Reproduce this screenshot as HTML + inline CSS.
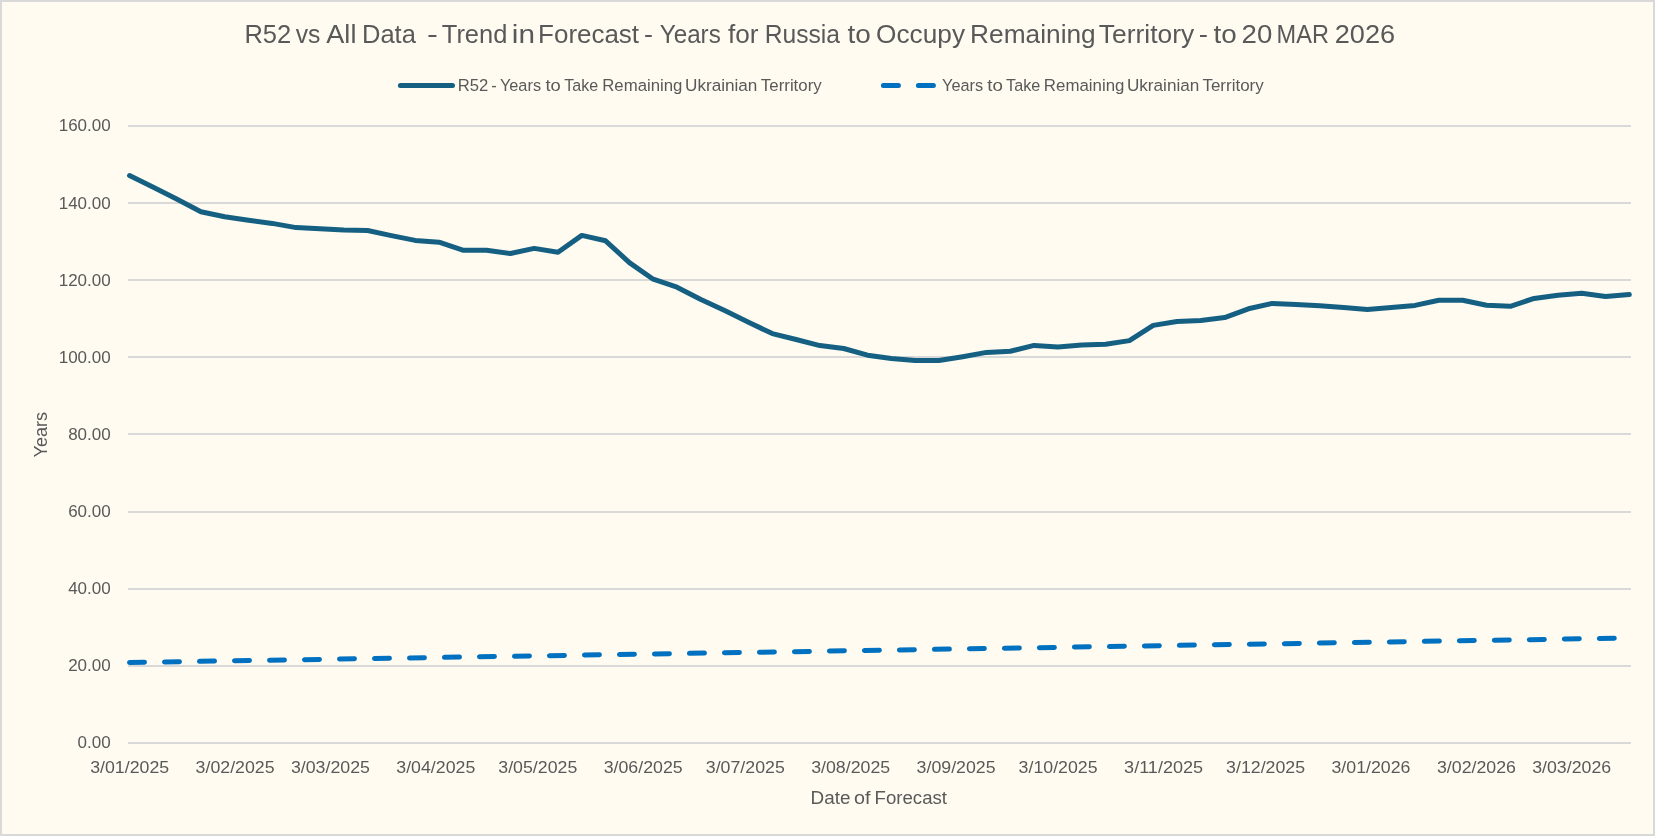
<!DOCTYPE html>
<html><head><meta charset="utf-8"><title>R52 vs All Data chart</title>
<style>
html,body{margin:0;padding:0;background:#d9d9d9;}
body{width:1655px;height:836px;overflow:hidden;position:relative;}
.frame{position:absolute;left:0;top:0;width:1651px;height:832px;border:2px solid #d9d9d9;background:#fffbf0;}
svg{position:absolute;left:0;top:0;will-change:transform;}
text{font-family:"Liberation Sans",Arial,sans-serif;fill:#595959;white-space:pre;}
</style></head>
<body>
<div class="frame"></div>
<svg width="1655" height="836" viewBox="0 0 1655 836">
<g stroke="#d9d9d9" stroke-width="2" shape-rendering="crispEdges">
<line x1="128" x2="1631" y1="126" y2="126"/>
<line x1="128" x2="1631" y1="203" y2="203"/>
<line x1="128" x2="1631" y1="280" y2="280"/>
<line x1="128" x2="1631" y1="357" y2="357"/>
<line x1="128" x2="1631" y1="434" y2="434"/>
<line x1="128" x2="1631" y1="512" y2="512"/>
<line x1="128" x2="1631" y1="589" y2="589"/>
<line x1="128" x2="1631" y1="666" y2="666"/>
<line x1="128" x2="1631" y1="743" y2="743"/>
</g>
<g>
<text x="244.46" y="42.9" font-size="26.5" textLength="46.80" lengthAdjust="spacingAndGlyphs">R52</text>
<text x="295.68" y="42.9" font-size="26.5" textLength="24.69" lengthAdjust="spacingAndGlyphs">vs</text>
<text x="326.30" y="42.9" font-size="26.5" textLength="30.10" lengthAdjust="spacingAndGlyphs">All</text>
<text x="361.96" y="42.9" font-size="26.5" textLength="53.90" lengthAdjust="spacingAndGlyphs">Data</text>
<text x="427.03" y="42.9" font-size="26.5" textLength="10.88" lengthAdjust="spacingAndGlyphs">-</text>
<text x="441.79" y="42.9" font-size="26.5" textLength="65.57" lengthAdjust="spacingAndGlyphs">Trend</text>
<text x="511.87" y="42.9" font-size="26.5" textLength="23.17" lengthAdjust="spacingAndGlyphs">in</text>
<text x="538.12" y="42.9" font-size="26.5" textLength="100.94" lengthAdjust="spacingAndGlyphs">Forecast</text>
<text x="644.09" y="42.9" font-size="26.5" textLength="8.97" lengthAdjust="spacingAndGlyphs">-</text>
<text x="659.80" y="42.9" font-size="26.5" textLength="60.97" lengthAdjust="spacingAndGlyphs">Years</text>
<text x="727.91" y="42.9" font-size="26.5" textLength="30.54" lengthAdjust="spacingAndGlyphs">for</text>
<text x="764.73" y="42.9" font-size="26.5" textLength="75.31" lengthAdjust="spacingAndGlyphs">Russia</text>
<text x="847.48" y="42.9" font-size="26.5" textLength="23.31" lengthAdjust="spacingAndGlyphs">to</text>
<text x="876.12" y="42.9" font-size="26.5" textLength="88.88" lengthAdjust="spacingAndGlyphs">Occupy</text>
<text x="970.10" y="42.9" font-size="26.5" textLength="125.62" lengthAdjust="spacingAndGlyphs">Remaining</text>
<text x="1098.87" y="42.9" font-size="26.5" textLength="95.27" lengthAdjust="spacingAndGlyphs">Territory</text>
<text x="1198.65" y="42.9" font-size="26.5" textLength="9.24" lengthAdjust="spacingAndGlyphs">-</text>
<text x="1213.58" y="42.9" font-size="26.5" textLength="23.20" lengthAdjust="spacingAndGlyphs">to</text>
<text x="1241.62" y="42.9" font-size="26.5" textLength="30.71" lengthAdjust="spacingAndGlyphs">20</text>
<text x="1276.62" y="42.9" font-size="26.5" textLength="52.29" lengthAdjust="spacingAndGlyphs">MAR</text>
<text x="1334.74" y="42.9" font-size="26.5" textLength="60.33" lengthAdjust="spacingAndGlyphs">2026</text>
</g>
<line x1="400.4" y1="85.5" x2="452.5" y2="85.5" stroke="#156082" stroke-width="5" stroke-linecap="round"/>
<line x1="883.4" y1="85.5" x2="933.5" y2="85.5" stroke="#0070c0" stroke-width="5" stroke-linecap="round" stroke-dasharray="15 20"/>
<g>
<text x="457.67" y="91.0" font-size="16.8" textLength="30.56" lengthAdjust="spacingAndGlyphs">R52</text>
<text x="491.27" y="91.0" font-size="16.8" textLength="5.44" lengthAdjust="spacingAndGlyphs">-</text>
<text x="499.89" y="91.0" font-size="16.8" textLength="41.19" lengthAdjust="spacingAndGlyphs">Years</text>
<text x="545.43" y="91.0" font-size="16.8" textLength="15.29" lengthAdjust="spacingAndGlyphs">to</text>
<text x="564.28" y="91.0" font-size="16.8" textLength="33.88" lengthAdjust="spacingAndGlyphs">Take</text>
<text x="602.26" y="91.0" font-size="16.8" textLength="80.14" lengthAdjust="spacingAndGlyphs">Remaining</text>
<text x="685.01" y="91.0" font-size="16.8" textLength="72.39" lengthAdjust="spacingAndGlyphs">Ukrainian</text>
<text x="760.86" y="91.0" font-size="16.8" textLength="60.86" lengthAdjust="spacingAndGlyphs">Territory</text>
<text x="942.09" y="91.0" font-size="16.8" textLength="41.09" lengthAdjust="spacingAndGlyphs">Years</text>
<text x="987.32" y="91.0" font-size="16.8" textLength="15.61" lengthAdjust="spacingAndGlyphs">to</text>
<text x="1006.08" y="91.0" font-size="16.8" textLength="34.19" lengthAdjust="spacingAndGlyphs">Take</text>
<text x="1043.85" y="91.0" font-size="16.8" textLength="80.55" lengthAdjust="spacingAndGlyphs">Remaining</text>
<text x="1126.91" y="91.0" font-size="16.8" textLength="72.39" lengthAdjust="spacingAndGlyphs">Ukrainian</text>
<text x="1202.46" y="91.0" font-size="16.8" textLength="61.26" lengthAdjust="spacingAndGlyphs">Territory</text>
</g>
<g font-size="17" text-anchor="end">
<text x="110.7" y="131">160.00</text>
<text x="110.7" y="209">140.00</text>
<text x="110.7" y="286">120.00</text>
<text x="110.7" y="363">100.00</text>
<text x="110.7" y="440">80.00</text>
<text x="110.7" y="517">60.00</text>
<text x="110.7" y="594">40.00</text>
<text x="110.7" y="671">20.00</text>
<text x="110.7" y="748">0.00</text>
</g>
<g font-size="17" text-anchor="middle">
<text x="129.7" y="772.8" textLength="79" lengthAdjust="spacingAndGlyphs">3/01/2025</text>
<text x="235.1" y="772.8" textLength="79" lengthAdjust="spacingAndGlyphs">3/02/2025</text>
<text x="330.4" y="772.8" textLength="79" lengthAdjust="spacingAndGlyphs">3/03/2025</text>
<text x="435.8" y="772.8" textLength="79" lengthAdjust="spacingAndGlyphs">3/04/2025</text>
<text x="537.8" y="772.8" textLength="79" lengthAdjust="spacingAndGlyphs">3/05/2025</text>
<text x="643.2" y="772.8" textLength="79" lengthAdjust="spacingAndGlyphs">3/06/2025</text>
<text x="745.3" y="772.8" textLength="79" lengthAdjust="spacingAndGlyphs">3/07/2025</text>
<text x="850.7" y="772.8" textLength="79" lengthAdjust="spacingAndGlyphs">3/08/2025</text>
<text x="956.1" y="772.8" textLength="79" lengthAdjust="spacingAndGlyphs">3/09/2025</text>
<text x="1058.1" y="772.8" textLength="79" lengthAdjust="spacingAndGlyphs">3/10/2025</text>
<text x="1163.6" y="772.8" textLength="79" lengthAdjust="spacingAndGlyphs">3/11/2025</text>
<text x="1265.6" y="772.8" textLength="79" lengthAdjust="spacingAndGlyphs">3/12/2025</text>
<text x="1371.0" y="772.8" textLength="79" lengthAdjust="spacingAndGlyphs">3/01/2026</text>
<text x="1476.5" y="772.8" textLength="79" lengthAdjust="spacingAndGlyphs">3/02/2026</text>
<text x="1571.7" y="772.8" textLength="79" lengthAdjust="spacingAndGlyphs">3/03/2026</text>
</g>
<g>
<text x="810.49" y="803.8" font-size="17.5" textLength="39.91" lengthAdjust="spacingAndGlyphs">Date</text>
<text x="854.11" y="803.8" font-size="17.5" textLength="16.47" lengthAdjust="spacingAndGlyphs">of</text>
<text x="874.61" y="803.8" font-size="17.5" textLength="72.38" lengthAdjust="spacingAndGlyphs">Forecast</text>
</g>
<g transform="translate(47.2,457) rotate(-90)">
<text x="-0.45" y="0" font-size="17.5" textLength="45.60" lengthAdjust="spacingAndGlyphs">Years</text>
</g>
<polyline points="129.5,662.5 1629.3,638.0" fill="none" stroke="#0070c0" stroke-width="5" stroke-linecap="round" stroke-dasharray="15 20"/>
<polyline points="129.5,175.6 153.3,187.3 177.1,199.2 200.9,211.7 224.7,216.8 248.5,220.2 272.3,223.4 296.1,227.6 320.0,228.7 343.8,229.9 367.6,230.5 391.4,235.6 415.2,240.4 439.0,242.2 462.8,250.2 486.6,250.2 510.4,253.5 534.2,248.4 558.0,252.2 581.8,235.4 605.6,240.8 629.4,262.6 653.2,279.2 677.0,287.2 700.9,299.5 724.7,310.6 748.5,322.2 772.3,333.6 796.1,339.5 819.9,345.6 843.7,348.5 867.5,355.2 891.3,358.5 915.1,360.6 938.9,360.5 962.7,356.7 986.5,352.4 1010.3,351.3 1034.1,345.4 1057.9,347.0 1081.8,345.0 1105.6,344.2 1129.4,340.6 1153.2,325.4 1177.0,321.5 1200.8,320.6 1224.6,317.6 1248.4,308.8 1272.2,303.4 1296.0,304.5 1319.8,305.8 1343.6,307.6 1367.4,309.4 1391.2,307.6 1415.0,305.4 1438.8,300.2 1462.7,300.2 1486.5,305.3 1510.3,306.3 1534.1,298.4 1557.9,295.3 1581.7,293.3 1605.5,296.6 1629.3,294.5" fill="none" stroke="#156082" stroke-width="5" stroke-linecap="round" stroke-linejoin="round"/>
</svg>
</body></html>
